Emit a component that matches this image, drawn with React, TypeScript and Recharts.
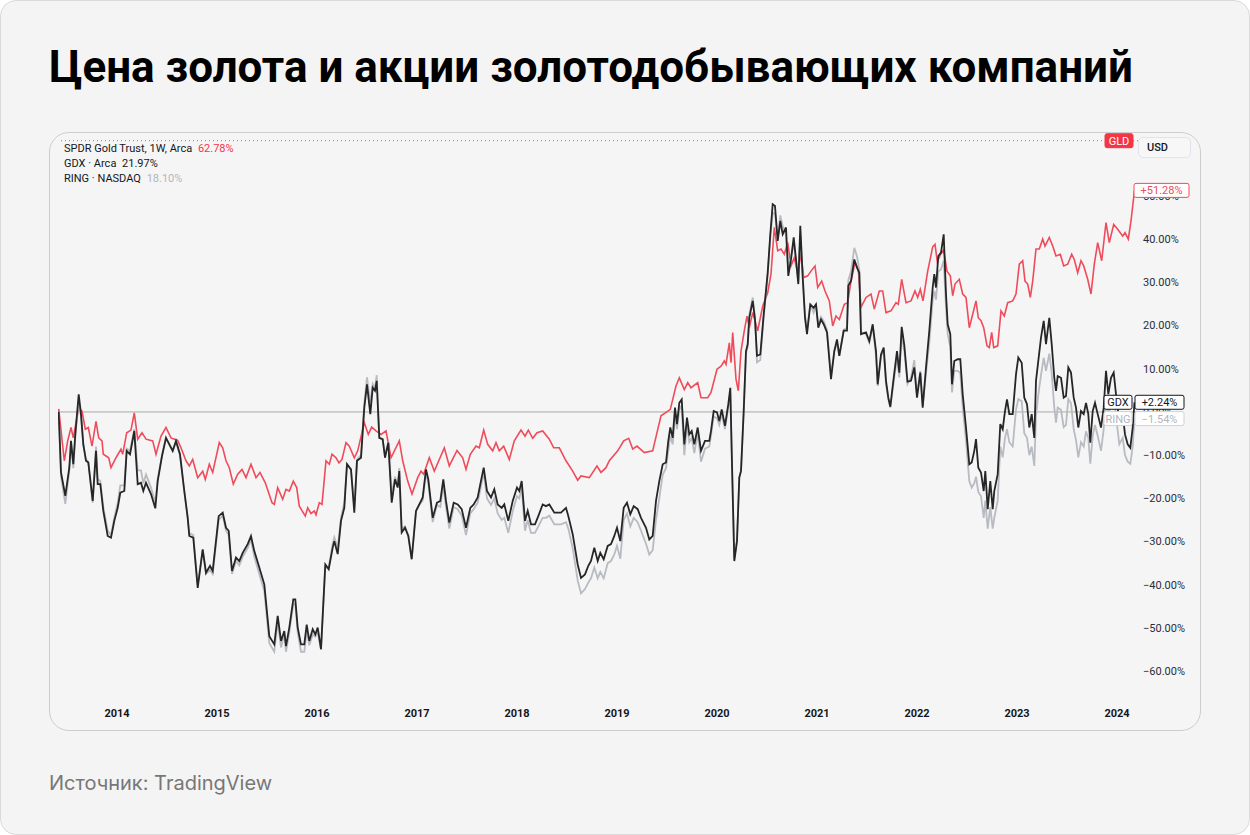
import { LineChart, Line, XAxis, YAxis, ReferenceLine } from 'recharts';

// weekly closes, % change from the first bar
const gldDates = [
  2013.417, 2013.473, 2013.507, 2013.54, 2013.563, 2013.617, 2013.65, 2013.683, 2013.713, 2013.75,
  2013.79, 2013.817, 2013.85, 2013.863, 2013.917, 2013.94, 2013.99, 2014.04, 2014.057, 2014.097,
  2014.14, 2014.173, 2014.207, 2014.25, 2014.29, 2014.357, 2014.39, 2014.44, 2014.49, 2014.54,
  2014.607, 2014.64, 2014.69, 2014.723, 2014.757, 2014.807, 2014.857, 2014.883, 2014.923, 2014.957,
  2015.023, 2015.057, 2015.09, 2015.123, 2015.163, 2015.207, 2015.25, 2015.29, 2015.34, 2015.39,
  2015.43, 2015.483, 2015.55, 2015.573, 2015.607, 2015.657, 2015.69, 2015.723, 2015.763, 2015.797,
  2015.823, 2015.883, 2015.907, 2015.94, 2015.973, 2015.99, 2016.023, 2016.05, 2016.09, 2016.123,
  2016.15, 2016.19, 2016.22, 2016.25, 2016.29, 2016.323, 2016.373, 2016.407, 2016.473, 2016.513,
  2016.547, 2016.59, 2016.64, 2016.69, 2016.74, 2016.823, 2016.857, 2016.907, 2016.95, 2017.007,
  2017.04, 2017.067, 2017.123, 2017.173, 2017.223, 2017.273, 2017.323, 2017.4, 2017.457, 2017.49,
  2017.533, 2017.59, 2017.623, 2017.667, 2017.707, 2017.757, 2017.79, 2017.823, 2017.867, 2017.923,
  2017.973, 2018.04, 2018.08, 2018.113, 2018.157, 2018.2, 2018.257, 2018.323, 2018.367, 2018.423,
  2018.49, 2018.557, 2018.607, 2018.64, 2018.723, 2018.8, 2018.84, 2018.89, 2018.923, 2019.007,
  2019.067, 2019.117, 2019.157, 2019.2, 2019.273, 2019.357, 2019.4, 2019.44, 2019.49, 2019.533,
  2019.59, 2019.623, 2019.673, 2019.707, 2019.74, 2019.807, 2019.84, 2019.907, 2019.94, 2020.0,
  2020.04, 2020.073, 2020.09, 2020.123, 2020.14, 2020.157, 2020.19, 2020.213, 2020.24, 2020.273,
  2020.3, 2020.323, 2020.357, 2020.407, 2020.457, 2020.507, 2020.54, 2020.573, 2020.607, 2020.64,
  2020.673, 2020.707, 2020.74, 2020.773, 2020.807, 2020.84, 2020.867, 2020.907, 2020.94, 2020.98,
  2021.007, 2021.047, 2021.08, 2021.123, 2021.157, 2021.19, 2021.223, 2021.273, 2021.307, 2021.34,
  2021.38, 2021.413, 2021.44, 2021.49, 2021.54, 2021.573, 2021.623, 2021.657, 2021.69, 2021.74,
  2021.79, 2021.813, 2021.847, 2021.89, 2021.94, 2021.98, 2022.007, 2022.033, 2022.06, 2022.107,
  2022.157, 2022.18, 2022.203, 2022.237, 2022.267, 2022.3, 2022.333, 2022.357, 2022.38, 2022.423,
  2022.457, 2022.49, 2022.523, 2022.557, 2022.59, 2022.613, 2022.64, 2022.667, 2022.7, 2022.723,
  2022.747, 2022.767, 2022.807, 2022.84, 2022.873, 2022.907, 2022.957, 2022.99, 2023.023, 2023.057,
  2023.08, 2023.107, 2023.133, 2023.157, 2023.19, 2023.223, 2023.257, 2023.28, 2023.323, 2023.357,
  2023.39, 2023.433, 2023.467, 2023.507, 2023.547, 2023.573, 2023.607, 2023.64, 2023.667, 2023.707,
  2023.74, 2023.773, 2023.807, 2023.847, 2023.89, 2023.923, 2023.967, 2024.007, 2024.057, 2024.08,
  2024.113, 2024.14, 2024.175,
];
const gldPct = [
  0.7, -11.3, -6.7, -3.6, -6, 1, 0.2, -4, -3.6, -7.9,
  -2.2, -6, -6.7, -9.8, -10.6, -12.9, -10.6, -8.6, -9.8, -4.8,
  -4.2, -0.2, -6.3, -4.8, -6.3, -6.7, -9.8, -5.6, -3.6, -6,
  -6.6, -8.3, -11.3, -12.5, -11, -15.2, -13.7, -15.6, -12.1, -14,
  -7.1, -8.3, -11.3, -12.9, -16.7, -14.4, -13.3, -15.2, -12.1, -15.2,
  -14, -16.4, -21, -21.4, -17.5, -20.2, -17.9, -18.3, -16, -17.5,
  -21.8, -24.1, -22.2, -23.5, -22.9, -23.8, -21, -21.4, -11.3, -12.1,
  -9.8, -10.6, -11.8, -11, -7.1, -7.9, -10.6, -9, -2.5, -5.2,
  -3.5, -4.4, -5.2, -4.4, -10.6, -6.7, -11.3, -16, -19, -15.2,
  -13.7, -14.4, -10.6, -13.7, -11, -8.3, -12.5, -8.9, -10.6, -13.3,
  -9.8, -7.9, -8.3, -4.2, -7.5, -9, -7.1, -9, -7.9, -11,
  -6.7, -4.2, -5.6, -4.2, -6.1, -4.8, -4.4, -6.3, -8.3, -8.3,
  -11.3, -13.7, -15.8, -14.8, -15.2, -12.5, -14, -12.9, -11.3, -9,
  -6.7, -6.1, -8.6, -7.9, -9.4, -9, -4.8, -0.9, -0.1, 0.6,
  6, 7.9, 5.2, 6.8, 5.6, 6.8, 3.3, 3.3, 4.5, 9.9,
  10.6, 11.8, 11, 16, 11.4, 18.4, 7.6, 4.9, 14.1, 18.8,
  22.2, 19.5, 23, 18.8, 24.5, 27.6, 31.9, 42.7, 37.3, 37.7,
  36.5, 39.2, 33.8, 35.7, 32.2, 36.5, 31.1, 31.5, 32.6, 33.8,
  28.8, 30.3, 28, 25.7, 19.9, 22.2, 21.4, 24.9, 25.3, 30.3,
  34.6, 33, 24.2, 26.5, 27.3, 23.8, 28, 28, 23, 23.4,
  25.3, 24.9, 30.7, 25.3, 25.7, 28, 26.5, 28.4, 25.7, 32.6,
  38.2, 38.8, 34.8, 36.5, 37.5, 32.6, 31.5, 26.9, 29.6, 30.7,
  27.3, 26.5, 19.5, 22.6, 25.7, 21.8, 21.1, 19.5, 15.3, 14.9,
  18.4, 14.9, 15.3, 23.4, 22.2, 25.3, 25.7, 27.3, 34.2, 35,
  30.3, 29.6, 26.5, 30.3, 37.7, 37.7, 40, 38.4, 40.4, 38.4,
  36.1, 36.5, 33.8, 34.2, 36.5, 35.3, 32.2, 35, 33.8, 30.7,
  27.3, 34.2, 39.2, 35, 43.8, 39.2, 43.4, 42.3, 40.7, 41.5,
  40, 44.2, 51.28,
];

// GDX and RING share the same weeks
const minerDates = [
  2013.417, 2013.44, 2013.483, 2013.523, 2013.54, 2013.563, 2013.583, 2013.617, 2013.64, 2013.663,
  2013.69, 2013.713, 2013.757, 2013.79, 2013.807, 2013.833, 2013.863, 2013.907, 2013.94, 2013.973,
  2014.007, 2014.033, 2014.073, 2014.097, 2014.13, 2014.173, 2014.207, 2014.24, 2014.263, 2014.29,
  2014.34, 2014.383, 2014.407, 2014.45, 2014.49, 2014.523, 2014.557, 2014.59, 2014.63, 2014.673,
  2014.707, 2014.723, 2014.763, 2014.807, 2014.857, 2014.89, 2014.93, 2014.957, 2015.017, 2015.057,
  2015.09, 2015.117, 2015.15, 2015.19, 2015.223, 2015.257, 2015.307, 2015.34, 2015.373, 2015.423,
  2015.473, 2015.523, 2015.573, 2015.607, 2015.64, 2015.673, 2015.69, 2015.723, 2015.763, 2015.783,
  2015.807, 2015.84, 2015.873, 2015.897, 2015.923, 2015.957, 2015.983, 2016.007, 2016.04, 2016.083,
  2016.117, 2016.157, 2016.173, 2016.207, 2016.24, 2016.273, 2016.3, 2016.34, 2016.373, 2016.4,
  2016.44, 2016.473, 2016.5, 2016.533, 2016.557, 2016.58, 2016.597, 2016.623, 2016.657, 2016.68,
  2016.713, 2016.747, 2016.78, 2016.807, 2016.823, 2016.847, 2016.88, 2016.913, 2016.947, 2016.99,
  2017.023, 2017.057, 2017.09, 2017.113, 2017.157, 2017.2, 2017.233, 2017.263, 2017.29, 2017.323,
  2017.367, 2017.407, 2017.447, 2017.49, 2017.533, 2017.567, 2017.607, 2017.633, 2017.667, 2017.7,
  2017.74, 2017.773, 2017.807, 2017.847, 2017.873, 2017.913, 2017.957, 2018.0, 2018.023, 2018.047,
  2018.08, 2018.107, 2018.14, 2018.18, 2018.213, 2018.257, 2018.29, 2018.323, 2018.373, 2018.44,
  2018.49, 2018.513, 2018.557, 2018.607, 2018.64, 2018.68, 2018.713, 2018.74, 2018.773, 2018.807,
  2018.833, 2018.867, 2018.907, 2018.94, 2018.973, 2019.0, 2019.033, 2019.067, 2019.1, 2019.133,
  2019.167, 2019.207, 2019.24, 2019.29, 2019.323, 2019.357, 2019.39, 2019.423, 2019.457, 2019.49,
  2019.513, 2019.533, 2019.557, 2019.58, 2019.6, 2019.623, 2019.647, 2019.673, 2019.7, 2019.723,
  2019.747, 2019.773, 2019.807, 2019.84, 2019.88, 2019.923, 2019.94, 2019.967, 2020.0, 2020.023,
  2020.047, 2020.08, 2020.113, 2020.133, 2020.147, 2020.173, 2020.2, 2020.223, 2020.24, 2020.267,
  2020.29, 2020.307, 2020.323, 2020.357, 2020.38, 2020.4, 2020.433, 2020.467, 2020.507, 2020.533,
  2020.557, 2020.58, 2020.607, 2020.633, 2020.657, 2020.69, 2020.713, 2020.74, 2020.767, 2020.79,
  2020.813, 2020.833, 2020.857, 2020.88, 2020.9, 2020.933, 2020.967, 2020.99, 2021.013, 2021.04,
  2021.067, 2021.1, 2021.14, 2021.173, 2021.2, 2021.223, 2021.267, 2021.3, 2021.313, 2021.34,
  2021.373, 2021.4, 2021.423, 2021.44, 2021.49, 2021.523, 2021.557, 2021.59, 2021.607, 2021.64,
  2021.667, 2021.69, 2021.713, 2021.733, 2021.767, 2021.8, 2021.823, 2021.847, 2021.873, 2021.905,
  2021.94, 2021.973, 2022.0, 2022.033, 2022.057, 2022.09, 2022.123, 2022.157, 2022.173, 2022.19,
  2022.213, 2022.24, 2022.267, 2022.29, 2022.307, 2022.333, 2022.35, 2022.373, 2022.407, 2022.433,
  2022.457, 2022.49, 2022.523, 2022.547, 2022.573, 2022.59, 2022.613, 2022.64, 2022.667, 2022.683,
  2022.707, 2022.733, 2022.757, 2022.773, 2022.807, 2022.833, 2022.857, 2022.88, 2022.9, 2022.923,
  2022.957, 2022.99, 2023.013, 2023.047, 2023.073, 2023.1, 2023.123, 2023.147, 2023.173, 2023.19,
  2023.213, 2023.24, 2023.267, 2023.29, 2023.323, 2023.347, 2023.373, 2023.39, 2023.407, 2023.44,
  2023.467, 2023.49, 2023.513, 2023.54, 2023.567, 2023.59, 2023.613, 2023.64, 2023.667, 2023.69,
  2023.713, 2023.733, 2023.757, 2023.78, 2023.807, 2023.84, 2023.867, 2023.89, 2023.913, 2023.94,
  2023.967, 2023.99, 2024.023, 2024.057, 2024.08, 2024.107, 2024.133, 2024.157, 2024.175,
];
const gdxPct = [
  0, -14, -19.4, -12.9, -6.7, -12.1, -5.2, 4.1, -0.5, -7.5,
  -11.3, -11.7, -20.6, -9, -16.7, -16.7, -22.9, -28.7, -29.1, -25.2,
  -22.2, -18.7, -18.3, -9, -9.8, -4.4, -16.7, -16.4, -18.3, -16.4,
  -19, -22.3, -16, -10.2, -6, -7.5, -9, -6.7, -9.8, -18.3,
  -24.5, -28.7, -29.1, -40.7, -31.8, -37.2, -35.6, -36.8, -24.1, -23.3,
  -26.8, -27.5, -36.8, -33.7, -34.5, -32.6, -30.6, -28.7, -32.2, -36,
  -39.9, -51.9, -53.8, -47.2, -53, -50.7, -54.2, -49.9, -43.4, -43.4,
  -49.9, -53.8, -53.8, -49.2, -53, -50.3, -51.5, -49.9, -54.9, -35.3,
  -36.4, -31.4, -29.9, -32.9, -25.2, -22.2, -12.1, -13.3, -23.3, -11.3,
  -10.6, 1, 6.4, -0.5, 5.6, 4.9, 7.2, -6, -6.3, -10.6,
  -7.1, -21, -15.6, -17.5, -13.7, -27.9, -26.8, -28.7, -34.1, -22.9,
  -21.4, -19.8, -13.3, -15.6, -24.5, -21, -20.6, -15.6, -20.6, -25.6,
  -21, -21.4, -22.5, -26.8, -22.2, -21.4, -19.8, -16.7, -12.9, -18.3,
  -19.8, -17.9, -21.4, -22.2, -21.4, -25.2, -20.6, -17.5, -18.3, -16,
  -25.2, -22.9, -26, -26, -24.1, -21.4, -21.8, -21.4, -23.3, -23.3,
  -22.2, -24.1, -28.3, -35.3, -38.4, -37.6, -35.6, -34.5, -31.4, -34.5,
  -32.6, -34.1, -31, -30.6, -28.7, -26.8, -29.9, -22.2, -21, -23.7,
  -21.8, -22.5, -24.5, -26.8, -29.5, -28.7, -20.6, -16, -12.1, -11.7,
  -6.7, -3.6, -6, 1, -2.8, 2.1, 2.9, -7.5, -1.3, -5.2,
  -4.4, -7.5, -3.6, -9, -6.7, -6.7, -4.4, 0.2, -0.1, -2.1,
  0.6, -3.2, 1.8, 5.6, -9, -34.5, -29.9, -15.2, -13.7, 0.2,
  14.1, 15.7, 21.8, 25.7, 21.4, 13, 13.3, 22.6, 32.2, 41.1,
  48.1, 47.7, 39.6, 44.2, 41.1, 42.7, 31.5, 35.3, 40.4, 35.3,
  29.6, 43.1, 31.1, 21.8, 18, 24.9, 24.1, 24.9, 19.5, 21.4,
  20.3, 18.4, 7.6, 14.1, 16.8, 13, 18.8, 18.8, 29.2, 30.3,
  35.3, 33.4, 32.2, 18, 18.4, 16.4, 20.3, 14.1, 6.4, 13.3,
  14.9, 7.2, 3.3, 1.2, 7.9, 14.1, 9.1, 19.7, 15.5, 7,
  7.2, 10.3, 3.3, 9.1, 1, 10.3, 18.8, 28.8, 31.9, 28.8,
  36.1, 36.9, 41.1, 27.3, 20.3, 18, 6.4, 11.8, 12.2, 12.2,
  4.1, -3.6, -12.1, -11.7, -9, -6.3, -12.9, -14, -18.3, -13.7,
  -22.5, -16, -22.5, -18.3, -14.4, -2.8, -4, 0.2, 2.9, -0.5,
  -0.5, 8.7, 12.6, 11.4, 3.3, 1.8, -3.6, -0.5, -6, 7.2,
  11.8, 17.2, 21.1, 15.7, 21.8, 15.7, 7.9, 4.9, 8.3, 7.9,
  3.3, 3.7, 10.3, 9.1, 3.3, 1, -3.6, 0.2, -0.5, 2.1,
  -0.5, -7.1, 0.2, 2.1, -0.5, -3.6, 1, 9.5, 4.1, 7.9,
  9.1, 4.1, -2.1, -0.5, -5.2, -7.5, -8.3, -3.6, 2.24,
];
const ringPct = [
  0, -15, -21.3, -13.5, -7, -13, -5.5, 2.5, -1, -7.5,
  -11, -11.5, -21, -8, -15.5, -16, -22, -27.5, -28.5, -24.5,
  -21, -17, -17, -8.5, -9, -4, -13.5, -13.5, -16.5, -14.5,
  -17.5, -21, -15.5, -10, -6, -7.5, -9, -7, -10, -18.5,
  -24.5, -28, -28.5, -40, -32, -37.5, -36.5, -37.5, -25, -24,
  -27.5, -28.5, -37.5, -34.5, -35.5, -33.5, -31.5, -29.5, -33.5, -37.5,
  -41.5, -53.5, -55.5, -48.5, -54.5, -51.5, -55.5, -51, -44.5, -44.5,
  -51, -55.5, -55.5, -50.5, -54, -51.5, -52, -51, -55, -36,
  -36, -30.5, -29, -31.5, -24.5, -21, -12, -13.5, -22, -11,
  -10, 2, 8, 2, 6.5, 5.5, 8.5, -6, -6.5, -10,
  -7, -19, -15, -17, -13, -27, -26.5, -28.5, -34, -23,
  -21.5, -20.5, -14, -16.5, -25.5, -21.5, -22, -17, -22, -27,
  -22, -22.5, -24, -28.5, -23.5, -22.5, -21, -18, -14, -20,
  -21.5, -20, -23.5, -25, -24.5, -28, -23, -19.5, -20, -17.5,
  -27.5, -25, -28, -28, -26.5, -24.5, -24.5, -24, -26, -26,
  -25.5, -27, -31.5, -39, -42, -41, -39.5, -38.5, -36, -38.5,
  -37, -38.5, -35, -34.5, -33, -31, -34, -25, -23.5, -26.5,
  -24.5, -25.5, -27.5, -30.5, -33, -32, -25, -20, -14.5, -13,
  -9, -5.5, -7.5, -1, -4, 0.5, 1.5, -10, -3, -7,
  -6, -9.5, -5, -11.5, -8.5, -8, -5.5, -1, -1.5, -3,
  -0.5, -4, 1, 4.5, -9.5, -34, -29.5, -15, -13.5, 0,
  13.5, 15, 22.5, 26.5, 22, 11.5, 12, 22, 32, 40.5,
  46, 46, 40, 45.5, 43, 41, 33, 36, 39, 35,
  30, 41, 32, 22.5, 19, 25, 23, 25, 20, 22,
  21, 19, 8.5, 14, 16, 13, 19, 19.5, 30.5, 32.5,
  38, 36, 33, 18.5, 18, 16, 20, 13, 6, 13,
  14, 6.5, 3, 1, 7, 12.5, 8, 18, 14, 6.5,
  8, 12, 4, 9.5, 1.5, 9, 16, 26, 28, 26,
  32.5, 33, 35, 24, 18, 15, 4.5, 9.5, 9.5, 9,
  1, -6.5, -16, -17.5, -16.5, -15, -18.5, -19.5, -24.5, -20.5,
  -27, -22, -27, -24.5, -20.5, -8, -10.5, -6, -4, -7,
  -8, 0.5, 3, 2.5, -5, -6, -10, -8, -12.5, -1,
  4, 8.5, 12.5, 9.5, 13.5, 9, 1, -2.5, 1, 0.5,
  -3.5, -3, 3, 2, -4, -6.5, -10.5, -7, -8, -4.5,
  -6, -12, -5.5, -3, -5.5, -9, -4, 3.5, -1, 2,
  4, -1, -7.5, -6, -10, -11.5, -12, -8, -1.54,
];

const yearTicks = [2014, 2015, 2016, 2017, 2018, 2019, 2020, 2021, 2022, 2023, 2024];
const pctTicks = [50, 40, 30, 20, 10, 0, -10, -20, -30, -40, -50, -60];

const gldData = gldDates.map((t, i) => ({ t, v: gldPct[i] }));
const gdxData = minerDates.map((t, i) => ({ t, v: gdxPct[i] }));
const ringData = minerDates.map((t, i) => ({ t, v: ringPct[i] }));

const RED = '#f04b5b';
const BLACK = '#262626';
const GREY = '#b8bbc2';
const FONT = 'Roboto, "Noto Sans", sans-serif';

const X_DOMAIN = [2013.41, 2024.21];
const Y_DOMAIN = [-66.9, 64.1];
const MARGIN = { top: 134, right: 53, bottom: 105, left: 57 };

const fmtPct = (v: number) => (v < 0 ? '\u2212' : '') + Math.abs(v).toFixed(2) + '%';

type Tag = { text: string; dx: number; w: number; fill: string; stroke: string; color: string };

// small boxes sitting on the price scale, centred on the reference value
function tags(list: Tag[]) {
  return (props: any) => {
    const vb = props.viewBox || {};
    const right = vb.x + vb.width;
    const y = vb.y;
    return (
      <g>
        {list.map((tg) => (
          <g key={tg.text}>
            <rect x={right + tg.dx} y={y - 7} width={tg.w} height={14} rx={2} fill={tg.fill} stroke={tg.stroke} strokeWidth={1} />
            <text x={right + tg.dx + tg.w / 2} y={y} dy="0.36em" textAnchor="middle" fontSize={11} fontFamily={FONT} fill={tg.color}>
              {tg.text}
            </text>
          </g>
        ))}
      </g>
    );
  };
}

const gldLast = gldPct[gldPct.length - 1];
const gdxLast = gdxPct[gdxPct.length - 1];
const ringLast = ringPct[ringPct.length - 1];

export default function App() {
  return (
    <div style={{ position: 'relative', width: 1250, height: 835, background: '#f4f4f4', border: '1px solid #dadada', borderRadius: 16, boxSizing: 'border-box', overflow: 'hidden', fontFamily: FONT }}>
      <style>{'body{margin:0}'}</style>
      <div style={{ position: 'absolute', left: 48, top: 44, fontFamily: 'Roboto, sans-serif', fontWeight: 700, fontSize: 44, lineHeight: '44px', color: '#000', whiteSpace: 'nowrap' }}>
        Цена золота и акции золотодобывающих компаний
      </div>

      <div style={{ position: 'absolute', left: 48, top: 131, width: 1152, height: 599, border: '1px solid #cdcdcd', borderRadius: 20, boxSizing: 'border-box', background: '#f5f5f5' }} />

      {/* series and scales */}
      <div style={{ position: 'absolute', left: 0, top: 0 }}>
        <LineChart width={1250} height={835} margin={MARGIN}>
          <XAxis
            dataKey="t"
            type="number"
            domain={X_DOMAIN}
            allowDataOverflow
            ticks={yearTicks}
            axisLine={false}
            tickLine={false}
            tickSize={0}
            tickMargin={8}
            height={30}
            tick={{ fontSize: 11, fontWeight: 700, fill: '#131722', fontFamily: FONT }}
          />
          <YAxis
            orientation="right"
            type="number"
            domain={Y_DOMAIN}
            allowDataOverflow
            ticks={pctTicks}
            interval={0}
            width={60}
            axisLine={false}
            tickLine={false}
            tickSize={0}
            tickMargin={5}
            tickFormatter={fmtPct}
            tick={{ fontSize: 11, fill: '#2a2e39', textAnchor: 'start', fontFamily: FONT }}
          />
          <ReferenceLine y={0} stroke="#a8a8a8" strokeWidth={1} />
          <ReferenceLine y={62.78} stroke={RED} strokeDasharray="1 3" strokeWidth={1} />
          <Line data={gldData} dataKey="v" type="linear" stroke={RED} strokeWidth={1.6} dot={false} isAnimationActive={false} />
          <Line data={ringData} dataKey="v" type="linear" stroke={GREY} strokeWidth={1.8} dot={false} isAnimationActive={false} />
          <Line data={gdxData} dataKey="v" type="linear" stroke={BLACK} strokeWidth={1.8} dot={false} isAnimationActive={false} />
        </LineChart>
      </div>

      {/* price-scale tags, laid over the axis labels with the same scales */}
      <div style={{ position: 'absolute', left: 0, top: 0 }}>
        <LineChart width={1250} height={835} margin={MARGIN}>
          <XAxis dataKey="t" type="number" domain={X_DOMAIN} allowDataOverflow axisLine={false} tickLine={false} tick={false} height={30} />
          <YAxis orientation="right" type="number" domain={Y_DOMAIN} allowDataOverflow axisLine={false} tickLine={false} tick={false} width={60} />
          <ReferenceLine
            y={62.78}
            strokeOpacity={0}
            label={tags([{ text: 'GLD', dx: -33, w: 28, fill: '#f23645', stroke: '#f23645', color: '#ffffff' }])}
          />
          <ReferenceLine
            y={gldLast}
            strokeOpacity={0}
            label={tags([{ text: '+' + gldLast.toFixed(2) + '%', dx: -4, w: 55, fill: '#ffffff', stroke: RED, color: RED }])}
          />
          <ReferenceLine
            y={gdxLast}
            strokeOpacity={0}
            label={tags([
              { text: 'GDX', dx: -34, w: 28, fill: '#ffffff', stroke: '#131722', color: '#131722' },
              { text: '+' + gdxLast.toFixed(2) + '%', dx: -3, w: 49, fill: '#ffffff', stroke: '#131722', color: '#131722' },
            ])}
          />
          <ReferenceLine
            y={ringLast}
            strokeOpacity={0}
            label={tags([
              { text: 'RING', dx: -34, w: 28, fill: '#ffffff', stroke: '#cfd1d6', color: '#b2b5be' },
              { text: fmtPct(ringLast), dx: -3, w: 49, fill: '#ffffff', stroke: '#cfd1d6', color: '#b2b5be' },
            ])}
          />
        </LineChart>
      </div>

      {/* legend */}
      <div style={{ position: 'absolute', left: 63, top: 140, fontSize: 11, lineHeight: '15px', color: '#131722', whiteSpace: 'nowrap' }}>
        <div>SPDR Gold Trust, 1W, Arca <span style={{ color: '#f23645', marginLeft: 3 }}>62.78%</span></div>
        <div>GDX · Arca <span style={{ marginLeft: 3 }}>21.97%</span></div>
        <div>RING · NASDAQ <span style={{ color: '#b2b5be', marginLeft: 3 }}>18.10%</span></div>
      </div>

      <div style={{ position: 'absolute', left: 1137, top: 136, width: 53, height: 21, border: '1px solid #e0e3eb', borderRadius: 5, boxSizing: 'border-box', background: '#f7f7f7', fontSize: 11, fontWeight: 500, lineHeight: '19px', paddingLeft: 8, color: '#131722' }}>
        USD
      </div>

      <div style={{ position: 'absolute', left: 48, top: 770, fontFamily: 'Inter, sans-serif', fontSize: 20, lineHeight: '24px', color: '#777777', whiteSpace: 'nowrap' }}>
        Источник: TradingView
      </div>
    </div>
  );
}
